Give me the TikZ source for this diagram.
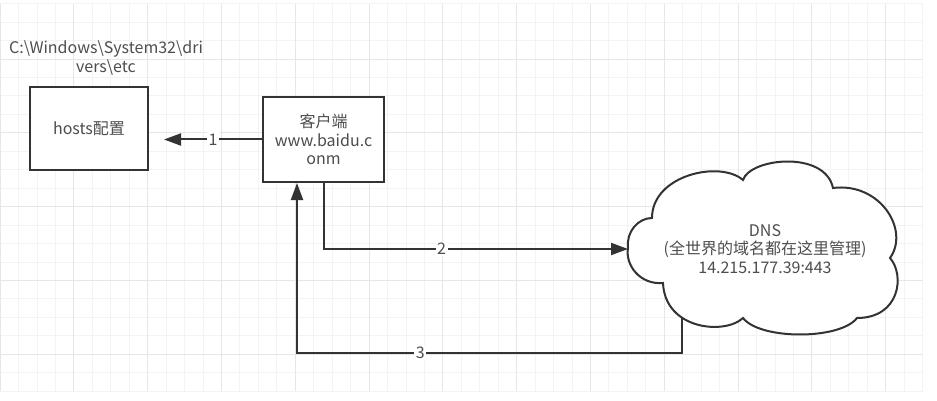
\documentclass[tikz,border=0pt]{standalone}
\usepackage{fontspec}
\setmainfont{Noto Sans CJK SC}
\usetikzlibrary{arrows.meta}
\definecolor{ink}{HTML}{333333}
\definecolor{txt}{HTML}{4D4D4D}
\definecolor{gridmin}{HTML}{F3F3F3}
\definecolor{gridmaj}{HTML}{E6E6E6}
\begin{document}
\begin{tikzpicture}[
 x=1pt,y=-1pt,
 line/.style={line width=2pt,draw=ink},
 box/.style={line,rectangle,fill=white,inner sep=0pt,align=center,text=txt},
 arr/.style={line,-{Triangle[length=17pt,width=12pt]}},
 lbl/.style={fill=white,inner sep=1.5pt,text=txt},
 every node/.style={font=\fontsize{16}{18.5}\selectfont}]
 \useasboundingbox[fill=white] (0,0) rectangle (937,401);
 % Background grid, a darker line every fourth step.
 \foreach \i in {0,...,50}{\draw[gridmin,line width=.8pt] (\i*18.45,3.6)--(\i*18.45,391);}
 \foreach \j in {0,...,21}{\draw[gridmin,line width=.8pt] (0,3.6+\j*18.45)--(922.5,3.6+\j*18.45);}
 \foreach \i in {0,4,...,48}{\draw[gridmaj,line width=.8pt] (\i*18.45,3.6)--(\i*18.45,391);}
 \foreach \j in {3,7,...,19}{\draw[gridmaj,line width=.8pt] (0,3.6+\j*18.45)--(922.5,3.6+\j*18.45);}
 % Boxes and the hosts path.
 \node[text=txt,align=center,font=\fontsize{16}{19.5}\selectfont] (path) at (106,58)
   {C:\textbackslash Windows\textbackslash System32\textbackslash dri\\vers\textbackslash etc};
 \node[box,minimum width=118pt,minimum height=83pt] (hosts) at (89,128.5) {hosts配置};
 \node[box,minimum width=121pt,minimum height=85pt] (client) at (323.5,139.5)
   {客户端\\www.baidu.c\\onm};
 % DNS cloud.
 \draw[line,fill=white] (628,248) .. controls (626,232) and (638,218) .. (652,218)
   .. controls (652,175) and (720,160) .. (743,180)
   .. controls (750,158) and (825,150) .. (833,188)
   .. controls (880,182) and (910,230) .. (890,258)
   .. controls (905,275) and (900,318) .. (857,318)
   .. controls (840,340) and (760,340) .. (743,318)
   .. controls (725,335) and (665,330) .. (663,283)
   .. controls (640,285) and (625,265) .. (628,248) -- cycle;
 \coordinate (dnsw) at (628,249);
 \coordinate (dnss) at (682,318);
 \node[text=txt,align=center] (dns) at (765,249)
   {DNS\\(全世界的域名都在这里管理)\\14.215.177.39:443};
 % Requests and answer.
 \draw[arr] (client.west) -- node[lbl]{1} ([xshift=15pt]hosts.east |- client.west);
 \draw[arr] (client.south) |- node[lbl,pos=.694]{2} (dnsw);
 \draw[arr] (dnss) -- ++(0,35) -| node[lbl,pos=.34]{3} ([xshift=-26.5pt]client.south);
\end{tikzpicture}
\end{document}
